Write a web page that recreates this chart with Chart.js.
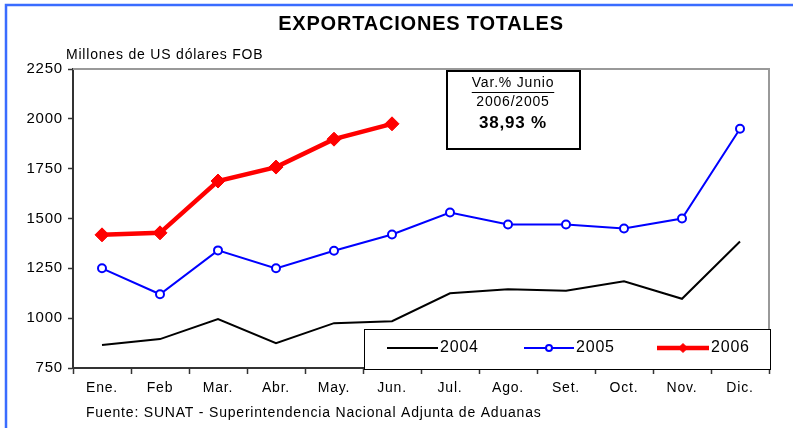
<!DOCTYPE html>
<html>
<head>
<meta charset="utf-8">
<script src="https://cdn.jsdelivr.net/npm/chart.js@4/dist/chart.umd.min.js"></script>
<style>
    body { margin: 0; background: #fff; }
    #wrap { position: relative; width: 793px; height: 428px; }
</style>
</head>
<body>
<div id="wrap"><canvas id="grafico" width="793" height="428"></canvas></div>
<script>
// Datos (millones de US$ FOB)
const meses = ['Ene.', 'Feb', 'Mar.', 'Abr.', 'May.', 'Jun.', 'Jul.', 'Ago.', 'Set.', 'Oct.', 'Nov.', 'Dic.'];
const exp2004 = [865, 895, 995, 875, 975, 985, 1125, 1145, 1137, 1185, 1097, 1385];
const exp2005 = [1250, 1120, 1340, 1250, 1338, 1420, 1530, 1470, 1470, 1450, 1500, 1950];
const exp2006 = [1418, 1428, 1688, 1758, 1898, 1975];
const ejeY = { min: 750, max: 2250, paso: 250 };

const titulo = 'EXPORTACIONES TOTALES';
const unidad = 'Millones de US dólares FOB';
const fuente = 'Fuente: SUNAT - Superintendencia Nacional Adjunta de Aduanas';
const recuadro = ['Var.% Junio', '2006/2005', '38,93 %'];

const FUENTE = '"Liberation Sans", Arial, sans-serif';
const ESPACIADO = '0.8px';

// Dibuja marco, títulos, recuadro de variación y leyenda
const decoracion = {
    id: 'decoracion',
    beforeInit: function(chart) {
        chart.ctx.letterSpacing = ESPACIADO;
    },
    beforeDraw: function(chart) {
        chart.ctx.letterSpacing = ESPACIADO;
    },
    beforeDatasetsDraw: function(chart) {
        const ctx = chart.ctx;
        const a = chart.chartArea;
        ctx.save();
        // borde gris superior y derecho del área de gráfico
        ctx.strokeStyle = '#999999';
        ctx.lineWidth = 2;
        ctx.beginPath();
        ctx.moveTo(a.left, a.top);
        ctx.lineTo(a.right, a.top);
        ctx.lineTo(a.right, a.bottom);
        ctx.stroke();
        ctx.restore();
    },
    afterDraw: function(chart) {
        const ctx = chart.ctx;
        ctx.save();
        ctx.letterSpacing = ESPACIADO;

        // marco azul exterior
        ctx.strokeStyle = '#3a6cff';
        ctx.lineWidth = 2.5;
        ctx.beginPath();
        ctx.moveTo(6, 440);
        ctx.lineTo(6, 5);
        ctx.lineTo(800, 5);
        ctx.stroke();

        ctx.fillStyle = '#000';
        ctx.textBaseline = 'middle';

        // título
        ctx.font = 'bold 20px ' + FUENTE;
        ctx.textAlign = 'center';
        ctx.fillText(titulo, 421, 24);

        // unidad
        ctx.font = '14px ' + FUENTE;
        ctx.textAlign = 'left';
        ctx.fillText(unidad, 66, 55);

        // fuente
        ctx.fillText(fuente, 86, 413);

        // recuadro de variación
        ctx.fillStyle = '#fff';
        ctx.fillRect(447, 71, 133, 78);
        ctx.strokeStyle = '#000';
        ctx.lineWidth = 2;
        ctx.strokeRect(447, 71, 133, 78);
        ctx.fillStyle = '#000';
        ctx.textAlign = 'center';
        ctx.font = '14px ' + FUENTE;
        ctx.fillText(recuadro[0], 513, 83);
        const w = ctx.measureText(recuadro[0]).width;
        ctx.lineWidth = 1;
        ctx.beginPath();
        ctx.moveTo(513 - w / 2, 92.5);
        ctx.lineTo(513 + w / 2, 92.5);
        ctx.stroke();
        ctx.fillText(recuadro[1], 513, 102);
        ctx.font = 'bold 17px ' + FUENTE;
        ctx.fillText(recuadro[2], 513, 123);

        // leyenda
        ctx.fillStyle = '#fff';
        ctx.fillRect(364, 329, 406, 40);
        ctx.strokeStyle = '#000';
        ctx.lineWidth = 1;
        ctx.strokeRect(364.5, 329.5, 406, 40);

        const items = [
            { x1: 387, x2: 438, texto: '2004', r: 0 },
            { x1: 524, x2: 574, texto: '2005', r: 3 },
            { x1: 657, x2: 709, texto: '2006', r: 4.5 }
        ];
        const yl = 348;
        items.forEach(function(it, i) {
            const ds = chart.data.datasets[i];
            const cx = (it.x1 + it.x2) / 2;
            ctx.strokeStyle = ds.borderColor;
            ctx.lineWidth = ds.borderWidth;
            ctx.beginPath();
            ctx.moveTo(it.x1, yl);
            ctx.lineTo(it.x2, yl);
            ctx.stroke();
            if (it.r > 0) {
                ctx.fillStyle = ds.pointBackgroundColor;
                ctx.strokeStyle = ds.pointBorderColor;
                ctx.lineWidth = ds.pointBorderWidth;
                ctx.beginPath();
                if (ds.pointStyle === 'circle') {
                    ctx.arc(cx, yl, it.r, 0, Math.PI * 2);
                } else {
                    ctx.moveTo(cx, yl - it.r);
                    ctx.lineTo(cx + it.r, yl);
                    ctx.lineTo(cx, yl + it.r);
                    ctx.lineTo(cx - it.r, yl);
                    ctx.closePath();
                }
                ctx.fill();
                ctx.stroke();
            }
            ctx.fillStyle = '#000';
            ctx.textAlign = 'left';
            ctx.font = '16px ' + FUENTE;
            ctx.fillText(it.texto, it.x2 + 2, yl);
        });

        ctx.restore();
    }
};

new Chart(document.getElementById('grafico'), {
    type: 'line',
    data: {
        labels: meses,
        datasets: [
            {
                label: '2004',
                data: exp2004,
                borderColor: '#000000',
                borderWidth: 2,
                pointRadius: 0,
                tension: 0
            },
            {
                label: '2005',
                data: exp2005,
                borderColor: '#0000ff',
                borderWidth: 2,
                pointStyle: 'circle',
                pointRadius: 4,
                pointBorderWidth: 2,
                pointBackgroundColor: '#ffffff',
                pointBorderColor: '#0000ff',
                tension: 0
            },
            {
                label: '2006',
                data: exp2006,
                borderColor: '#ff0000',
                borderWidth: 4.5,
                pointStyle: 'rectRot',
                pointRadius: 7,
                pointBorderWidth: 1,
                pointBackgroundColor: '#ff0000',
                pointBorderColor: '#ff0000',
                tension: 0
            }
        ]
    },
    options: {
        responsive: false,
        animation: false,
        layout: { padding: { left: 0, right: 24, top: 69, bottom: 0 } },
        plugins: {
            legend: { display: false },
            title: { display: false },
            tooltip: { enabled: false }
        },
        scales: {
            x: {
                offset: true,
                afterFit: function(scale) { scale.height = 60; },
                grid: {
                    offset: true,
                    drawOnChartArea: false,
                    drawTicks: true,
                    tickLength: 6,
                    color: '#333333',
                    tickWidth: 1.5
                },
                border: { color: '#333333', width: 2 },
                ticks: {
                    color: '#000',
                    padding: 6,
                    maxRotation: 0,
                    font: { family: FUENTE, size: 14 }
                }
            },
            y: {
                min: ejeY.min,
                max: ejeY.max,
                afterFit: function(scale) { scale.width = 73; },
                grid: {
                    drawOnChartArea: false,
                    drawTicks: true,
                    tickLength: 5,
                    color: '#333333',
                    tickWidth: 1.5
                },
                border: { color: '#333333', width: 2 },
                ticks: {
                    stepSize: ejeY.paso,
                    color: '#000',
                    padding: 5,
                    font: { family: FUENTE, size: 15 },
                    callback: function(value) { return String(value); }
                }
            }
        }
    },
    plugins: [decoracion]
});
</script>
</body>
</html>
